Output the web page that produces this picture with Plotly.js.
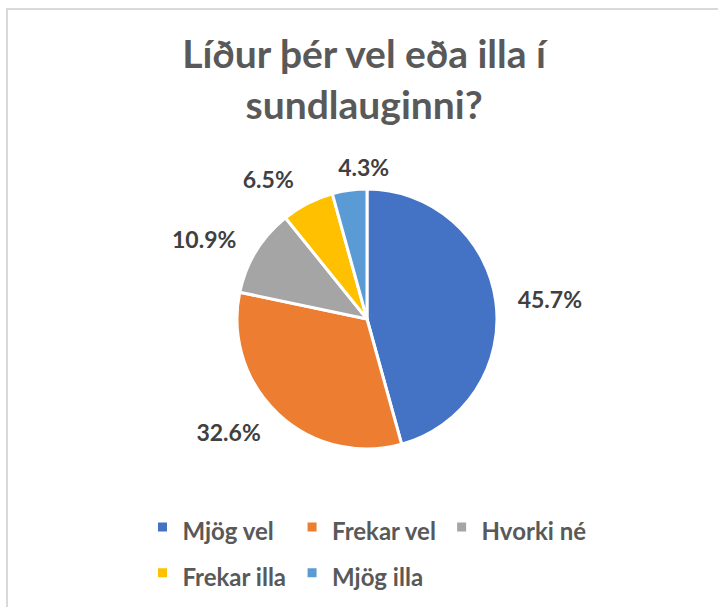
<!DOCTYPE html>
<html>
<head>
<meta charset="utf-8">
<script src="https://cdn.plot.ly/plotly-3.0.1.min.js"></script>
<style>
  html, body { margin: 0; padding: 0; background: #fff; overflow: hidden; }
  #frame { position: absolute; left: 6px; top: 8px; width: 760px; height: 660px;
           border: 2px solid #D9D9D9; box-sizing: border-box; }
  #chart { position: absolute; left: 0; top: 0; width: 718px; height: 607px; }
  #chart path.textline { display: none; }
</style>
</head>
<body>
<div id="frame"></div>
<div id="chart"></div>
<script>
const categories = ["Mjög vel", "Frekar vel", "Hvorki né", "Frekar illa", "Mjög illa"];
const values = [45.7, 32.6, 10.9, 6.5, 4.3];
const colors = ["#4472C4", "#ED7D31", "#A5A5A5", "#FFC000", "#5B9BD5"];
const titleText = "Líður þér vel eða illa í<br>sundlauginni?";

const FONT = "Lato, 'Open Sans', sans-serif";
const W = 718, H = 607;
const ml = 130, mr = 130;
const pw = W - ml - mr;
const cx = 367, cy = 319, r = 130, rLabel = 145;
const FMT = "%{value:.1f}%";

function dom(rad, dx) {
  dx = dx || 0;
  return {
    x: [(cx + dx - rad - ml) / pw, (cx + dx + rad - ml) / pw],
    y: [(H - cy - rad) / H, (H - cy + rad) / H]
  };
}

const legendLabels = categories.map(c => '<span style="font-size:24px">' + c + '</span>');

const pieTrace = {
  type: "pie",
  labels: legendLabels,
  values: values,
  sort: false,
  direction: "clockwise",
  rotation: 0,
  marker: { colors: colors, line: { color: "#FFFFFF", width: 3 } },
  textinfo: "none",
  hoverinfo: "percent",
  automargin: false,
  domain: dom(r)
};

// Data labels: drawn by transparent copies of the pie (split in two so the
// smallest slice's label is placed like the reference's, above its slice).
function labelTrace(showIdx, rad, dx) {
  return {
    type: "pie",
    labels: legendLabels,
    values: values,
    sort: false,
    direction: "clockwise",
    rotation: 0,
    showlegend: false,
    marker: { colors: colors.map(() => "rgba(0,0,0,0)"), line: { color: "rgba(0,0,0,0)", width: 0 } },
    texttemplate: values.map((v, i) => showIdx(i) ? FMT : ""),
    textposition: "outside",
    outsidetextfont: { family: FONT, size: 23, color: "#404040", weight: "bold" },
    textfont: { family: FONT, size: 23, color: "#404040", weight: "bold" },
    hoverinfo: "skip",
    automargin: false,
    domain: dom(rad, dx)
  };
}

const last = values.length - 1;
const labelsA = labelTrace(i => i !== last, rLabel, 0);
const labelsB = labelTrace(i => i === last, 140, 48);

const layout = {
  width: W, height: H,
  paper_bgcolor: "rgba(0,0,0,0)",
  plot_bgcolor: "rgba(0,0,0,0)",
  margin: { l: ml, r: mr, t: 0, b: 0 },
  title: {
    text: titleText,
    font: { family: FONT, size: 39, color: "#595959", weight: "bold" },
    x: cx / W, xanchor: "center", xref: "paper",
    y: 1 - 68 / H, yanchor: "middle", yref: "container"
  },
  showlegend: true,
  legend: {
    orientation: "h",
    x: 0.5 + 8 / pw, xanchor: "center",
    y: (H - 499) / H, yanchor: "top",
    font: { family: FONT, size: 33, color: "#595959", weight: "bold" },
    itemwidth: 30,
    traceorder: "normal"
  }
};

Plotly.newPlot("chart", [pieTrace, labelsA, labelsB], layout, { displayModeBar: false, staticPlot: true });
</script>
</body>
</html>
